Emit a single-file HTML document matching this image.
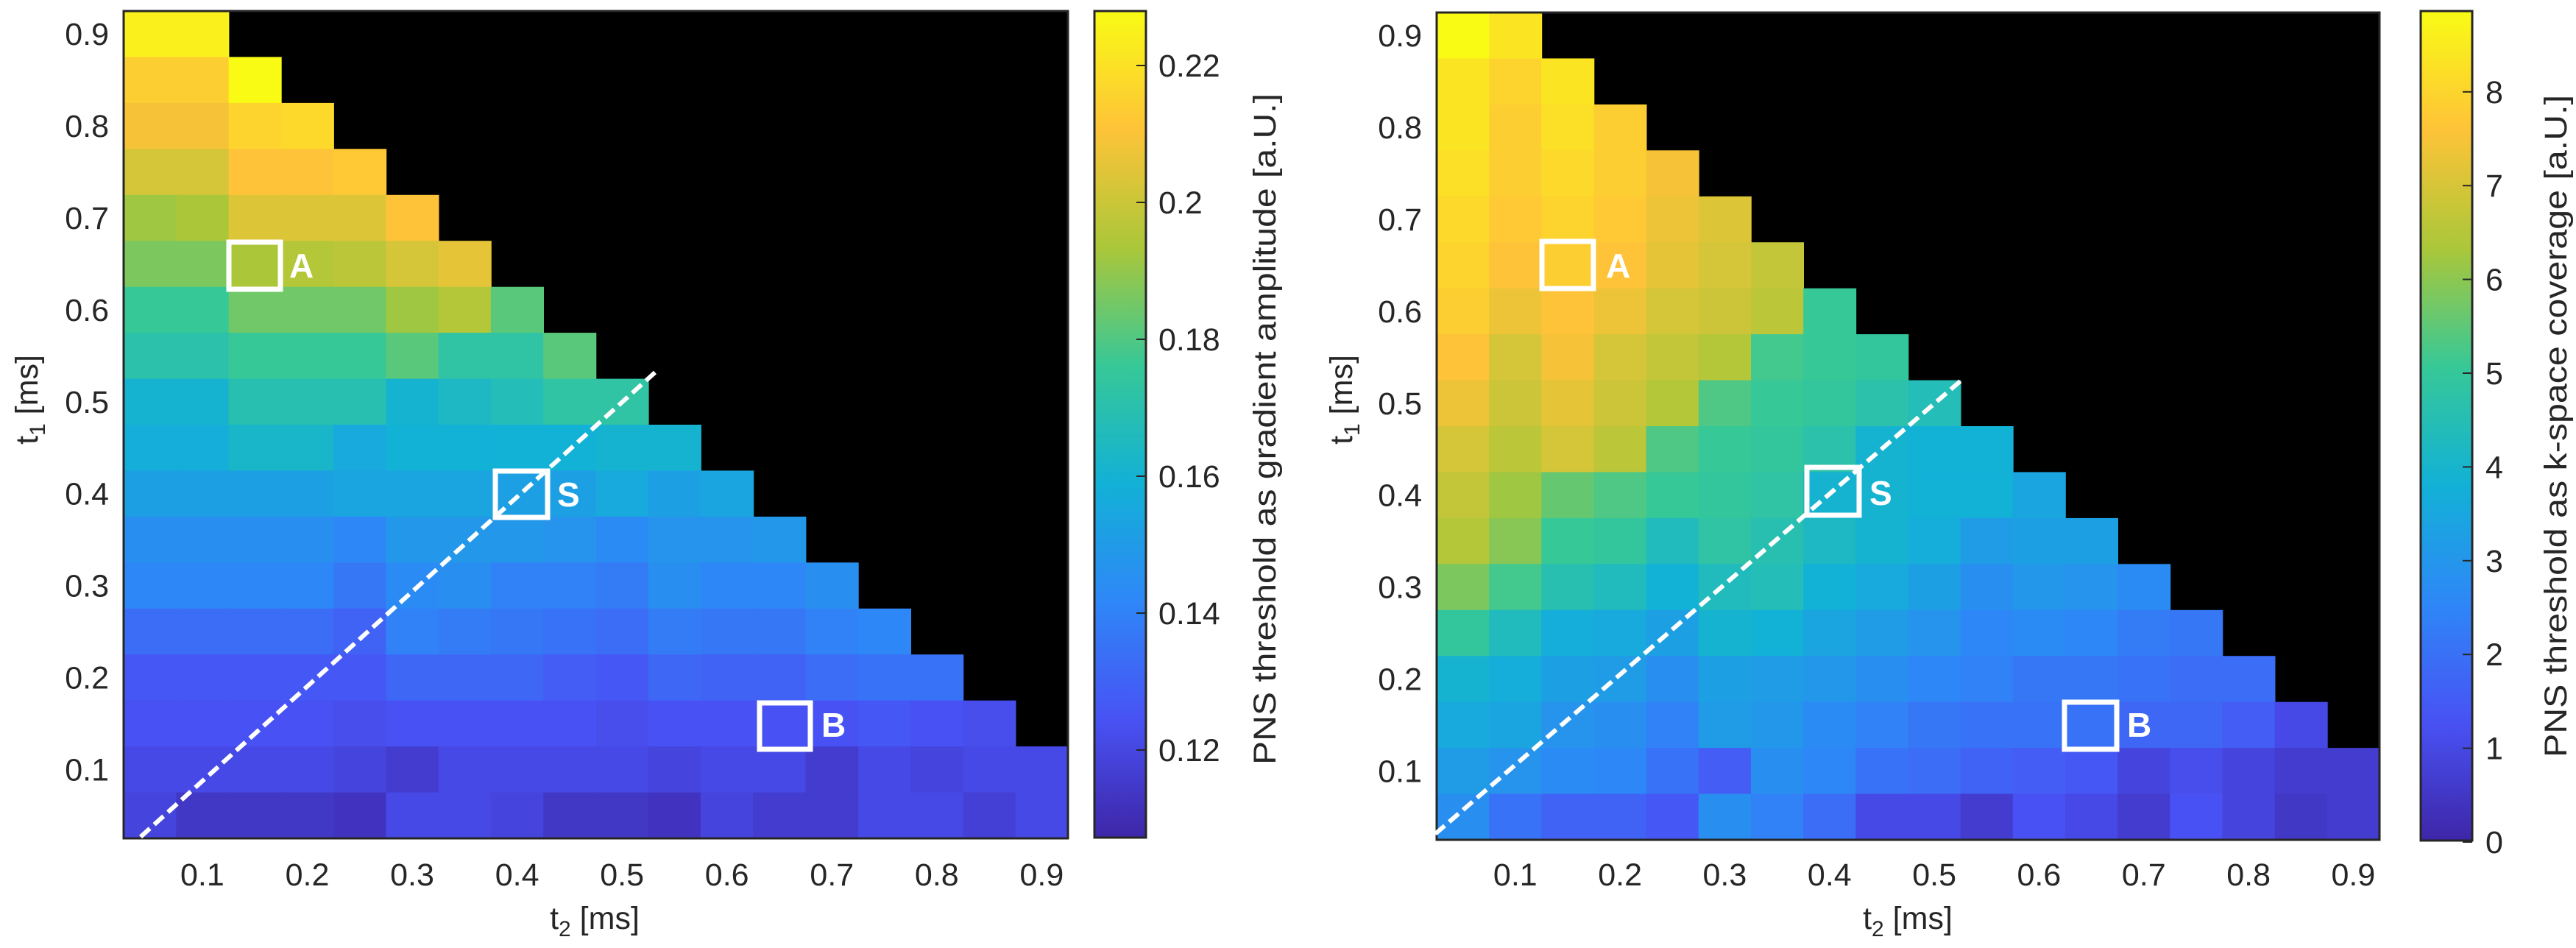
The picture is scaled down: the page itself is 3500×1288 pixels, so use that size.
<!DOCTYPE html>
<html><head><meta charset="utf-8"><style>
html,body{margin:0;padding:0;background:#fff;}
svg{display:block;}
text{font-family:"Liberation Sans",Arial,sans-serif;fill:#262626;}
.tk{font-size:43px;}
.lb text{font-size:46px;fill:#fff;font-weight:bold;}
</style></head><body>
<svg id="s" width="3500" height="1288" viewBox="0 0 3500 1288" xmlns="http://www.w3.org/2000/svg">
<defs>
<linearGradient id="pg" x1="0" y1="1" x2="0" y2="0">
<stop offset="0" stop-color="rgb(62,38,168)"/>
<stop offset="0.1429" stop-color="rgb(72,82,244)"/>
<stop offset="0.2857" stop-color="rgb(46,135,247)"/>
<stop offset="0.4286" stop-color="rgb(18,177,214)"/>
<stop offset="0.5714" stop-color="rgb(55,200,151)"/>
<stop offset="0.7143" stop-color="rgb(171,199,57)"/>
<stop offset="0.8571" stop-color="rgb(254,195,56)"/>
<stop offset="1" stop-color="rgb(249,251,21)"/>
</linearGradient>
</defs>
<g id="cells"></g>
<rect x="168" y="15" width="1283" height="1124" fill="none" stroke="#262626" stroke-width="3"/>
<rect x="1952" y="17" width="1281" height="1124" fill="none" stroke="#262626" stroke-width="3"/>
<rect x="1487" y="15" width="70" height="1123" fill="url(#pg)" stroke="#262626" stroke-width="3"/>
<rect x="3289" y="15" width="70" height="1127" fill="url(#pg)" stroke="#262626" stroke-width="3"/>
<g stroke="#262626" stroke-width="2">
<line x1="1544" y1="89" x2="1557" y2="89"/><line x1="1544" y1="275" x2="1557" y2="275"/>
<line x1="1544" y1="461" x2="1557" y2="461"/><line x1="1544" y1="647" x2="1557" y2="647"/>
<line x1="1544" y1="833" x2="1557" y2="833"/><line x1="1544" y1="1019" x2="1557" y2="1019"/>
</g>
<g class="tk">
<text x="1574" y="104">0.22</text><text x="1574" y="290">0.2</text><text x="1574" y="476">0.18</text>
<text x="1574" y="662">0.16</text><text x="1574" y="848">0.14</text><text x="1574" y="1034">0.12</text>
</g>
<g id="cb2t" class="tk"></g>
<text class="tk" transform="translate(1733,583) rotate(-90)" text-anchor="middle" textLength="912" lengthAdjust="spacingAndGlyphs">PNS threshold as gradient amplitude [a.U.]</text>
<text class="tk" transform="translate(3487,579) rotate(-90)" text-anchor="middle" textLength="900" lengthAdjust="spacingAndGlyphs">PNS threshold as k-space coverage [a.U.]</text>
<g id="axt" class="tk"></g>
<text class="tk" transform="translate(51,543) rotate(-90)" text-anchor="middle">t<tspan font-size="30" dy="10">1</tspan><tspan dy="-10"> [ms]</tspan></text>
<text class="tk" transform="translate(1837,543) rotate(-90)" text-anchor="middle">t<tspan font-size="30" dy="10">1</tspan><tspan dy="-10"> [ms]</tspan></text>
<text class="tk" x="808" y="1262" text-anchor="middle">t<tspan font-size="30" dy="10">2</tspan><tspan dy="-10"> [ms]</tspan></text>
<text class="tk" x="2592" y="1262" text-anchor="middle">t<tspan font-size="30" dy="10">2</tspan><tspan dy="-10"> [ms]</tspan></text>
<g fill="none" stroke="#fff">
<line x1="191" y1="1137" x2="890" y2="506" stroke-width="6" stroke-dasharray="17,8"/>
<line x1="1950" y1="1133" x2="2668" y2="514" stroke-width="6" stroke-dasharray="17,8"/>
<g stroke-width="7">
<rect x="311" y="329" width="70" height="64"/><rect x="673" y="640" width="71" height="63"/><rect x="1032" y="955" width="69" height="63"/>
<rect x="2095" y="328" width="70" height="64"/><rect x="2455" y="635" width="71" height="65"/><rect x="2805" y="954" width="71" height="64"/>
</g></g>
<g class="lb">
<text x="393" y="377">A</text><text x="757" y="688">S</text><text x="1116" y="1001">B</text>
<text x="2182" y="377">A</text><text x="2540" y="686">S</text><text x="2890" y="1001">B</text>
</g>
</svg>
<script>
var N=[[62,38,168],[72,82,244],[46,135,247],[18,177,214],[55,200,151],[171,199,57],[254,195,56],[249,251,21]];
function col(v){v=Math.max(0,Math.min(7,v));var i=Math.min(6,Math.floor(v)),f=v-i,a=N[i],b=N[i+1];
return 'rgb('+[0,1,2].map(function(k){return Math.round(a[k]+(b[k]-a[k])*f)}).join(',')+')';}
var L=[
[6.8,6.8],
[6.2,6.2,7.0],
[5.9,5.9,6.3,6.4],
[5.5,5.5,6.0,6.0,6.1],
[4.9,5.0,5.6,5.6,5.6,6.0],
[4.6,4.6,5.0,5.1,5.2,5.5,5.7],
[4.0,4.0,4.5,4.5,4.5,4.9,5.1,4.3],
[3.7,3.7,4.0,4.0,4.0,4.3,3.8,3.8,4.3],
[3.1,3.1,3.6,3.6,3.6,3.1,3.3,3.5,3.8,3.8],
[2.9,2.9,3.2,3.2,2.8,3.0,3.0,3.0,3.0,3.1,3.1],
[2.6,2.6,2.6,2.6,2.7,2.7,2.7,2.6,2.6,2.8,2.6,2.7],
[2.2,2.2,2.2,2.2,2.0,2.4,2.4,2.4,2.3,2.1,2.3,2.3,2.4],
[2.0,2.0,2.0,2.0,1.7,2.1,2.2,1.9,1.9,1.8,2.2,2.0,2.0,2.2],
[1.5,1.5,1.5,1.5,1.3,1.9,1.8,1.7,1.6,1.5,1.8,1.7,1.7,1.9,2.0],
[1.1,1.1,1.1,1.1,1.1,1.4,1.4,1.4,1.2,1.1,1.4,1.3,1.3,1.5,1.6,1.6],
[1.0,1.0,1.0,1.0,0.9,1.0,1.0,1.0,1.0,0.9,1.0,1.0,1.0,1.0,1.1,1.0,0.9],
[0.8,0.8,0.8,0.8,0.7,0.5,0.8,0.8,0.8,0.8,0.7,0.8,0.8,0.5,0.8,0.7,0.8,0.8],
[0.7,0.4,0.4,0.4,0.3,0.8,0.8,0.7,0.4,0.4,0.3,0.7,0.5,0.5,0.8,0.8,0.6,0.8]];
var R=[
[7.0,6.6],
[6.6,6.3,6.6],
[6.6,6.2,6.5,6.2],
[6.5,6.2,6.4,6.2,5.9],
[6.4,6.1,6.3,6.1,5.8,5.6],
[6.3,6.0,6.2,6.0,5.7,5.5,5.3],
[6.2,5.8,6.0,5.8,5.5,5.4,5.2,4.0],
[6.0,5.5,5.9,5.5,5.3,5.1,4.1,4.0,3.9],
[5.8,5.4,5.7,5.4,5.1,4.2,4.0,3.9,3.7,3.5],
[5.5,5.2,5.5,5.2,4.2,4.0,3.9,3.7,3.1,3.0,3.0],
[5.3,4.9,4.4,4.2,4.0,3.9,3.8,3.1,3.1,3.0,3.0,2.7],
[5.1,4.7,4.0,3.9,3.4,3.8,3.6,3.3,3.1,2.9,2.5,2.6,2.6],
[4.6,4.1,3.6,3.4,3.0,3.4,3.5,3.0,2.8,2.6,2.2,2.4,2.3,2.1],
[3.9,3.4,2.9,2.8,2.6,3.1,3.0,2.7,2.5,2.3,2.0,2.1,2.0,1.8,1.7],
[3.1,2.9,2.6,2.5,2.2,2.6,2.5,2.4,2.2,2.0,1.9,1.7,1.7,1.6,1.5,1.5],
[2.8,2.7,2.3,2.2,1.9,2.5,2.4,2.1,1.9,1.7,1.6,1.6,1.6,1.4,1.4,1.2,0.8],
[2.5,2.3,2.1,2.0,1.6,1.2,2.2,2.0,1.6,1.5,1.3,1.2,1.1,0.7,0.9,0.7,0.5,0.5],
[2.2,1.6,1.3,1.3,1.1,2.2,1.9,1.5,0.8,0.8,0.5,1.0,0.8,0.5,1.0,0.7,0.4,0.5]];
var g=document.getElementById('cells'),h='';
function plot(D,x0,y0,W,H){h+='<rect x="'+x0+'" y="'+y0+'" width="'+W+'" height="'+H+'" fill="#000"/>';
var cw=W/18,ch=H/18;for(var r=0;r<18;r++)for(var j=0;j<D[r].length;j++){
h+='<rect x="'+(x0+j*cw).toFixed(1)+'" y="'+(y0+r*ch).toFixed(1)+'" width="'+(cw+0.8).toFixed(1)+'" height="'+(ch+0.8).toFixed(1)+'" fill="'+col(D[r][j])+'"/>';}}
plot(L,168,15,1283,1124);plot(R,1952,17,1281,1124);
g.innerHTML=h;
var t='';
for(var v=0;v<=8;v++){var y=1144-v*127.4;
t+='<line x1="3346" y1="'+y+'" x2="3359" y2="'+y+'" stroke="#262626" stroke-width="2"/>';
t+='<text x="3377" y="'+(y+15)+'">'+v+'</text>';}
document.getElementById('cb2t').innerHTML=t;
var a='';
function axes(x0,y0,W,H){for(var k=1;k<=9;k++){var v=k/10,lab='0.'+k;
var x=x0+(v-0.025)/0.9*W;a+='<text x="'+x.toFixed(1)+'" y="1203" text-anchor="middle">'+lab+'</text>';
var y=y0+(0.925-v)/0.9*H;a+='<text x="'+(x0-20)+'" y="'+(y+15).toFixed(1)+'" text-anchor="end">'+lab+'</text>';}}
axes(168,15,1283,1124);axes(1952,17,1281,1124);
document.getElementById('axt').innerHTML=a;
</script>
</body></html>
